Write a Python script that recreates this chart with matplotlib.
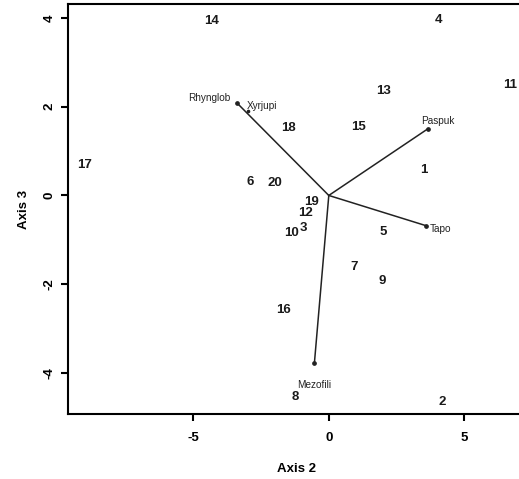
import matplotlib
matplotlib.use("Agg")
import matplotlib.pyplot as plt

plt.rcParams['font.family'] = ['Liberation Sans', 'DejaVu Sans']

# Site scores (Axis 2, Axis 3)
site_labels = ["1", "2", "3", "4", "5", "6", "7", "8", "9", "10",
               "11", "12", "13", "14", "15", "16", "17", "18", "19", "20"]
site_x = [3.49, 4.18, -0.93, 4.06, 2.00, -2.91, 0.93, -1.24, 1.98, -1.36,
          6.68, -0.87, 2.00, -4.33, 1.09, -1.67, -8.99, -1.48, -0.62, -1.98]
site_y = [0.58, -4.65, -0.74, 3.96, -0.83, 0.30, -1.60, -4.54, -1.93, -0.85,
          2.48, -0.40, 2.36, 3.93, 1.54, -2.57, 0.69, 1.52, -0.14, 0.29]

# Species vectors (biplot arrows)
vec_labels = ["Rhynglob", "Xyrjupi", "Paspuk", "Tapo", "Mezofili"]
vec_x = [-3.38, -2.99, 3.65, 3.58, -0.53]
vec_y = [2.08, 1.91, 1.50, -0.68, -3.77]

x_ticks = [-5, 0, 5]
y_ticks = [-4, -2, 0, 2, 4]

fig = plt.figure(figsize=(5.19, 4.79), dpi=100)
ax = fig.add_axes([68 / 519, 65 / 479, 1.01 - 68 / 519, 410 / 479])
ax.set_xlim(-9.61, 7.2)
ax.set_ylim(-4.92, 4.31)

for lab, x, y in zip(site_labels, site_x, site_y):
    ax.text(x, y, lab, ha='center', va='center', fontsize=9.5,
            fontweight='bold', color='#1a1a1a')

# label placement for vectors (offset in points)
offsets = {"Rhynglob": (-20, 3.4),
           "Xyrjupi": (10, 3.6),
           "Paspuk": (7.2, 5.3),
           "Tapo": (10.5, -2.4),
           "Mezofili": (0, -15.6)}

for lab, x, y in zip(vec_labels, vec_x, vec_y):
    if lab == "Xyrjupi":
        ax.plot([x], [y], marker='o', ms=1.6, color='#222222')
    else:
        ax.plot([0, x], [0, y], color='#222222', lw=1.1)
        ax.plot([x], [y], marker='o', ms=2.4, color='#222222')
    dx, dy = offsets[lab]
    ax.annotate(lab, (x, y), xytext=(dx, dy), textcoords='offset points',
                ha='center', va='center', fontsize=7.2, color='#222222')

ax.set_xticks(x_ticks)
ax.set_yticks(y_ticks)
ax.set_xticklabels([str(t) for t in x_ticks], fontsize=9.5, fontweight='bold')
ax.set_yticklabels([str(t) for t in y_ticks], fontsize=9.5, fontweight='bold',
                   rotation=90, va='center')
ax.tick_params(direction='out', length=5, width=1.5)
ax.tick_params(axis='x', pad=8)
ax.tick_params(axis='y', pad=4)
for s in ['left', 'bottom', 'top']:
    ax.spines[s].set_linewidth(1.5)
ax.spines['right'].set_visible(False)

ax.set_xlabel("Axis 2", fontsize=9.5, fontweight='bold', labelpad=14)
ax.set_ylabel("Axis 3", fontsize=9.5, fontweight='bold', labelpad=10)

fig.savefig("out.png", dpi=100)
